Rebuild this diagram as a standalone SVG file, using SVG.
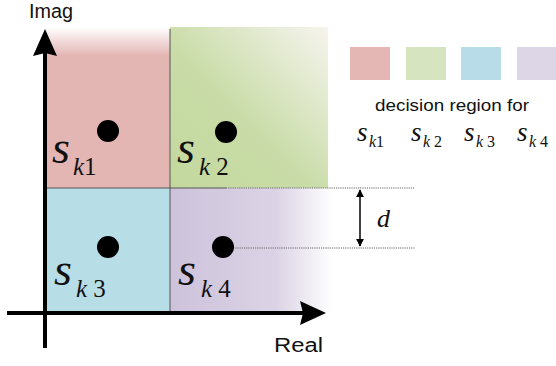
<svg xmlns="http://www.w3.org/2000/svg" width="556" height="366" viewBox="0 0 556 366">
<style>
.lbl{font-family:'Liberation Sans',Arial,sans-serif;fill:#111}
.s{font-family:'Liberation Serif','Times New Roman',serif;font-style:italic;fill:#111}
.sub{font-family:'Liberation Serif','Times New Roman',serif;fill:#111}
.it{font-style:italic}
.dot{fill:#000}
.div{stroke:#555;stroke-width:1;fill:none}
.dotted{stroke:#666;stroke-width:1;stroke-dasharray:1.2 1;fill:none}
.axis{stroke:#000;stroke-width:4;fill:none}
</style>
<defs>
<linearGradient id="gRed" x1="0" y1="0" x2="0" y2="1">
<stop offset="0" stop-color="#FFFFFF"/>
<stop offset="0.18" stop-color="#E3B5B3"/>
<stop offset="1" stop-color="#E3B5B3"/>
</linearGradient>
<linearGradient id="gGreen" x1="0" y1="1" x2="1" y2="0">
<stop offset="0" stop-color="#C3D89D"/>
<stop offset="0.45" stop-color="#C9DCA8"/>
<stop offset="1" stop-color="#F6F4EE"/>
</linearGradient>
<linearGradient id="gPurple" x1="0" y1="0" x2="1" y2="0">
<stop offset="0" stop-color="#CDC2DB"/>
<stop offset="0.65" stop-color="#DBD3E5"/>
<stop offset="1" stop-color="#FFFFFF"/>
</linearGradient>
<marker id="ah" viewBox="0 0 10 10" refX="9" refY="5" markerWidth="8" markerHeight="10" markerUnits="userSpaceOnUse" orient="auto-start-reverse">
<path d="M0,0 L10,5 L0,10 z" fill="#000"/>
</marker>
</defs>
<g id="regions">
<g id="region-k1"><rect x="45" y="27" width="125" height="161" fill="url(#gRed)"/></g>
<g id="region-k2"><rect x="170" y="27" width="158" height="161" fill="url(#gGreen)"/></g>
<g id="region-k3"><rect x="45" y="188" width="125" height="125" fill="#B7DDE7"/></g>
<g id="region-k4"><rect x="170" y="188" width="163" height="125" fill="url(#gPurple)"/></g>
<path class="div" d="M170,29 V313 M45,188 H226"/>
</g>
<g id="connectors">
<path class="dotted" d="M226,188 H415 M233,248 H415"/>
<line x1="360" y1="190" x2="360" y2="246" stroke="#000" stroke-width="1.5" marker-start="url(#ah)" marker-end="url(#ah)"/>
<path class="axis" d="M45,348 V52"/>
<polygon points="45,29 57,56 45,53 33,56" fill="#000"/>
<path class="axis" d="M7,313 H305"/>
<polygon points="326,313 300,301 303,313 300,325" fill="#000"/>
</g>
<g id="axis-labels">
<text class="lbl" x="29" y="18" font-size="20" textLength="44" lengthAdjust="spacingAndGlyphs">Imag</text>
<text class="lbl" x="274" y="352" font-size="20" textLength="49" lengthAdjust="spacingAndGlyphs">Real</text>
<text class="s" x="377" y="227" font-size="26" font-family="Liberation Serif" font-style="italic">d</text>
</g>
<g id="node-k1">
<circle class="dot" cx="108" cy="131" r="11"/>
<text class="s" x="52" y="163" font-size="46" font-family="Liberation Serif" font-style="italic">s</text>
<text class="sub" x="73" y="175" font-size="25" font-family="Liberation Serif"><tspan font-style="italic">k</tspan>1</text>
</g>
<g id="node-k2">
<circle class="dot" cx="226" cy="132" r="11"/>
<text class="s" x="177" y="163" font-size="46" font-family="Liberation Serif" font-style="italic">s</text>
<text class="sub" x="199" y="175" font-size="25" font-family="Liberation Serif"><tspan font-style="italic">k</tspan> 2</text>
</g>
<g id="node-k3">
<circle class="dot" cx="108" cy="247" r="11"/>
<text class="s" x="54" y="285" font-size="46" font-family="Liberation Serif" font-style="italic">s</text>
<text class="sub" x="76" y="297" font-size="25" font-family="Liberation Serif"><tspan font-style="italic">k</tspan> 3</text>
</g>
<g id="node-k4">
<circle class="dot" cx="223" cy="247" r="11"/>
<text class="s" x="178" y="285" font-size="46" font-family="Liberation Serif" font-style="italic">s</text>
<text class="sub" x="201" y="297" font-size="25" font-family="Liberation Serif"><tspan font-style="italic">k</tspan> 4</text>
</g>
<g id="legend">
<rect x="350" y="47" width="40" height="33" fill="#E4B7B5"/>
<rect x="406" y="47" width="40" height="33" fill="#D7E4C0"/>
<rect x="461" y="47" width="40" height="33" fill="#B8DDE8"/>
<rect x="517" y="47" width="40" height="33" fill="#DDD6E7"/>
<text class="lbl" x="452" y="111" font-size="17" text-anchor="middle" textLength="154" lengthAdjust="spacingAndGlyphs">decision region for</text>
<text class="s" x="357" y="141" font-size="27">s</text>
<text class="sub" x="369" y="147" font-size="16"><tspan class="it">k</tspan>1</text>
<text class="s" x="411" y="141" font-size="27">s</text>
<text class="sub" x="423" y="147" font-size="16"><tspan class="it">k</tspan> 2</text>
<text class="s" x="464" y="141" font-size="27">s</text>
<text class="sub" x="476" y="147" font-size="16"><tspan class="it">k</tspan> 3</text>
<text class="s" x="517" y="141" font-size="27">s</text>
<text class="sub" x="529" y="147" font-size="16"><tspan class="it">k</tspan> 4</text>
</g>
</svg>
